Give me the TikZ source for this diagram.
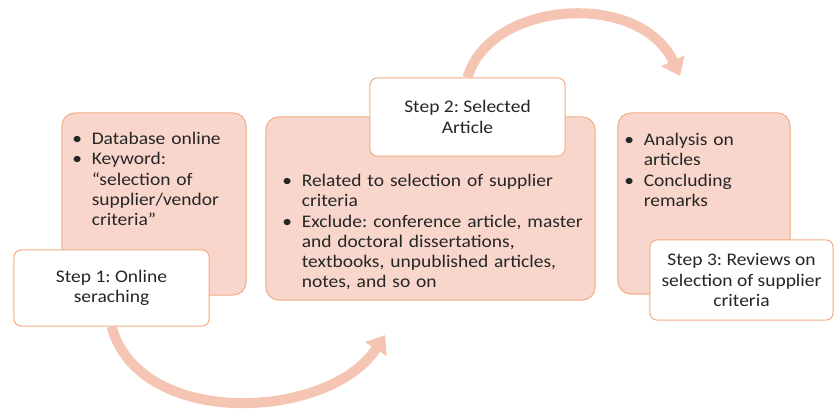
\documentclass[tikz,border=0pt]{standalone}
\usepackage{fontspec}
\setmainfont{Carlito}[FakeStretch=1.1]
\usepackage{xcolor}
\usetikzlibrary{arrows.meta,positioning,calc}

\definecolor{boxfill}{RGB}{248,214,203}
\definecolor{boxline}{RGB}{240,172,130}
\definecolor{arcpink}{RGB}{245,196,178}

\frenchspacing
\newcommand{\bitem}[1]{\par\hangindent=1.1em\hangafter=1\noindent\makebox[1.1em][l]{\textbullet}#1\par}

\begin{document}
\begin{tikzpicture}[
  x=0.025cm, y=-0.025cm,
  every node/.style={font=\fontsize{12.6}{14.4}\selectfont, text=black!85},
  listbox/.style={draw=boxline, fill=boxfill, line width=0.7pt, rounded corners=9pt},
  stepbox/.style={draw=boxline, fill=white, line width=0.7pt, rounded corners=5pt,
                  align=center},
  listtext/.style={anchor=north west, inner sep=0pt},
  flow/.style={draw=arcpink, line width=0.25cm,
               -{Triangle[length=0.42cm,width=0.62cm]}},
]
\useasboundingbox (0,0) rectangle (834,412);

%% ---- step 1 ----
\node[listbox, minimum width=4.6cm, minimum height=4.55cm] (db) at (154,204) {};
\node[listtext, text width=4.2cm] (dbtext) at (72,124)
  {\bitem{Database online}
   \bitem{Keyword:\newline``selection of\newline supplier/vendor\newline criteria''}};
\node[stepbox, minimum width=4.875cm, minimum height=1.9cm] (step1) at (111.5,288)
  {Step 1: Online\\seraching};

%% ---- step 2 ----
\node[listbox, minimum width=8.225cm, minimum height=4.575cm] (art) at (430.5,208.5) {};
\node[listtext, text width=7.9cm] (arttext) at (282,166)
  {\bitem{Related to selection of supplier\newline criteria}
   \bitem{Exclude: conference article, master\newline and doctoral dissertations,\newline textbooks, unpublished articles,\newline notes, and so on}};
\node[stepbox, minimum width=4.875cm, minimum height=1.95cm] (step2) at (467.5,117)
  {Step 2: Selected\\Article};

%% ---- step 3 ----
\node[listbox, minimum width=4.3cm, minimum height=4.525cm] (rev) at (704,203.5) {};
\node[listtext, text width=4cm] (revtext) at (624,125)
  {\bitem{Analysis on\newline articles}
   \bitem{Concluding\newline remarks}};
\node[stepbox, minimum width=4.575cm, minimum height=2cm] (step3) at (741.5,280)
  {Step 3: Reviews on\\selection of supplier\\criteria};

%% ---- arrows ----
\coordinate (tip1) at (385,335);
\coordinate (tip2) at (680,76);
\draw[flow] (step1.south) .. controls (140,430) and (330,420) .. (tip1);
\draw[flow] (step2.north) .. controls (490,0) and (640,-10) .. (tip2);
\end{tikzpicture}
\end{document}
